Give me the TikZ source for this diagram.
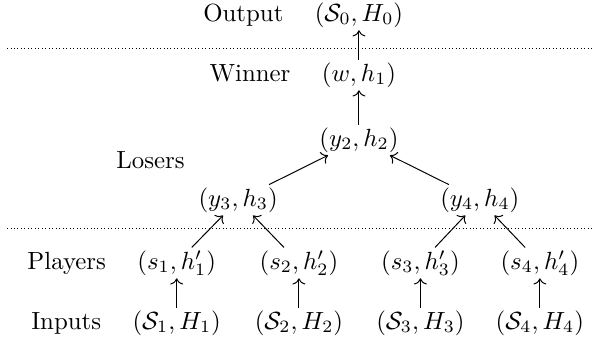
\documentclass[tikz,border=0pt]{standalone}
\usepackage{tikz}
\usetikzlibrary{positioning, arrows.meta}

\begin{document}
\begin{tikzpicture}[
    pair/.style={inner sep=1pt},
    lbl/.style={inner sep=1pt},
    arr/.style={->},
    sepline/.style={densely dotted},
]
\useasboundingbox (0,0) rectangle (8.42,-4.78);

%% ── Output and winner ────────────────────────────────────────────────────
\node[pair] (out) at (5.08, -0.21) {$(\mathcal{S}_0, H_0)$};
\node[pair] (win) at (5.08, -1.06) {$(w, h_1)$};
\node[lbl, base left=0.36cm of out] {Output};
\node[lbl, base left=0.36cm of win] {Winner};

\draw[arr] (win) -- (out);

%% ── Losers ───────────────────────────────────────────────────────────────
\node[pair] (los2) at (5.08, -1.98) {$(y_2, h_2)$};
\node[pair] (los3) at (3.37, -2.83) {$(y_3, h_3)$};
\node[pair] (los4) at (6.79, -2.83) {$(y_4, h_4)$};
\node[lbl] (loslbl) at (2.13, -2.26) {Losers};

\draw[arr] (los2) -- (win);
\draw[arr] (los3) -- (los2);
\draw[arr] (los4) -- (los2);

%% ── Players ──────────────────────────────────────────────────────────────
\node[pair] (pl1) at (2.50, -3.72) {$(s_1, h'_1)$};
\node[pair] (pl2) at (4.23, -3.72) {$(s_2, h'_2)$};
\node[pair] (pl3) at (5.95, -3.72) {$(s_3, h'_3)$};
\node[pair] (pl4) at (7.64, -3.72) {$(s_4, h'_4)$};
\node[lbl, base left=0.36cm of pl1] {Players};

\draw[arr] (pl1) -- (los3);
\draw[arr] (pl2) -- (los3);
\draw[arr] (pl3) -- (los4);
\draw[arr] (pl4) -- (los4);

%% ── Inputs ───────────────────────────────────────────────────────────────
\node[pair] (in1) at (2.50, -4.57) {$(\mathcal{S}_1, H_1)$};
\node[pair] (in2) at (4.23, -4.57) {$(\mathcal{S}_2, H_2)$};
\node[pair] (in3) at (5.95, -4.57) {$(\mathcal{S}_3, H_3)$};
\node[pair] (in4) at (7.64, -4.57) {$(\mathcal{S}_4, H_4)$};
\node[lbl, base left=0.36cm of in1] {Inputs};

\draw[arr] (in1) -- (pl1);
\draw[arr] (in2) -- (pl2);
\draw[arr] (in3) -- (pl3);
\draw[arr] (in4) -- (pl4);

%% ── Dotted separators ────────────────────────────────────────────────────
\coordinate (topL) at (0.10, -0.69);
\coordinate (topR) at (8.39, -0.69);
\coordinate (botL) at (0.10, -3.23);
\coordinate (botR) at (8.39, -3.23);
\draw[sepline] (topL) -- (topR);
\draw[sepline] (botL) -- (botR);

\end{tikzpicture}
\end{document}
